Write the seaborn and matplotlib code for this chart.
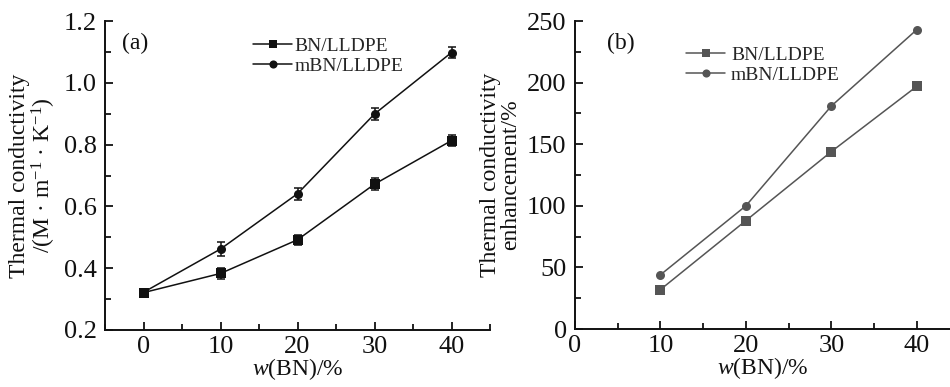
import numpy as np
import pandas as pd
import matplotlib
matplotlib.use("Agg")
import matplotlib.pyplot as plt
import seaborn as sns
from matplotlib.ticker import MultipleLocator

sns.set_theme(style="ticks")
plt.rcParams['font.family'] = ['Liberation Serif', 'DejaVu Serif']
plt.rcParams['mathtext.fontset'] = 'custom'
plt.rcParams['mathtext.rm'] = 'Liberation Serif'
plt.rcParams['mathtext.it'] = 'Liberation Serif:italic'

# Panel (a) data
w_a = [0, 10, 20, 30, 40]
bn_a = [0.321, 0.383, 0.492, 0.672, 0.813]
bn_a_err = [0.012, 0.018, 0.017, 0.020, 0.017]
mbn_a = [0.322, 0.462, 0.641, 0.899, 1.098]
mbn_a_err = [0.012, 0.024, 0.020, 0.021, 0.018]

# Panel (b) data
w_b = [10, 20, 30, 40]
bn_b = [32, 88, 144, 197]
mbn_b = [44, 100, 181, 243]

series = ["BN/LLDPE", "mBN/LLDPE"]

W, H = 950, 387
fig = plt.figure(figsize=(W / 100, H / 100), dpi=100)

def fr(x0, y0, x1, y1):
    return [x0 / W, 1 - y1 / H, (x1 - x0) / W, (y1 - y0) / H]

ax1 = fig.add_axes(fr(105, 21, 490, 330))
ax2 = fig.add_axes(fr(575, 21, 951, 329))

df_a = pd.DataFrame({
    "w": w_a * 2,
    "k": bn_a + mbn_a,
    "s": [series[0]] * len(w_a) + [series[1]] * len(w_a),
})
df_b = pd.DataFrame({
    "w": w_b * 2,
    "e": bn_b + mbn_b,
    "s": [series[0]] * len(w_b) + [series[1]] * len(w_b),
})

black = "#111111"
gray = "#555555"

sns.lineplot(data=df_a, x="w", y="k", hue="s", style="s",
             palette=[black, black], markers=["s", "o"], dashes=False,
             markersize=6.5, markeredgewidth=0, linewidth=1.1, ax=ax1)
ax1.errorbar(w_a, bn_a, yerr=bn_a_err, fmt="none", ecolor=black,
             elinewidth=1.1, capsize=3, capthick=1.1, zorder=5)
ax1.errorbar(w_a, mbn_a, yerr=mbn_a_err, fmt="none", ecolor=black,
             elinewidth=1.1, capsize=3, capthick=1.1, zorder=5)

sns.lineplot(data=df_b, x="w", y="e", hue="s", style="s",
             palette=[gray, gray], markers=["s", "o"], dashes=False,
             markersize=6.5, markeredgewidth=0, linewidth=1.1, ax=ax2)

ax1.set_xlim(-5, 45)
ax1.set_ylim(0.2, 1.2)
ax1.xaxis.set_minor_locator(MultipleLocator(5))
ax1.yaxis.set_minor_locator(MultipleLocator(0.1))
ax1.set_xticks([0, 10, 20, 30, 40])
ax1.set_xticklabels(["0", "10", "20", "30", "40"])
ax1.set_yticks([0.2, 0.4, 0.6, 0.8, 1.0, 1.2])
ax1.set_yticklabels(["0.2", "0.4", "0.6", "0.8", "1.0", "1.2"])

ax2.set_xlim(0, 44)
ax2.set_ylim(0, 250)
ax2.xaxis.set_minor_locator(MultipleLocator(5))
ax2.yaxis.set_minor_locator(MultipleLocator(25))
ax2.set_xticks([0, 10, 20, 30, 40])
ax2.set_yticks([0, 50, 100, 150, 200, 250])

for ax in (ax1, ax2):
    sns.despine(ax=ax)
    for sp in ("left", "bottom"):
        ax.spines[sp].set_linewidth(1.4)
        ax.spines[sp].set_color(black)
    ax.tick_params(which="major", direction="in", length=6, width=1.3,
                   labelsize=19, colors=black, pad=6)
    ax.tick_params(axis="x", which="major", pad=4)
    ax.tick_params(which="minor", direction="in", length=4, width=1.3,
                   colors=black)
    ax.set_xlabel(r"$\mathit{w}$(BN)/%", fontsize=17, color=black, labelpad=-1)
    ax.set_facecolor("none")

ax1.set_ylabel("Thermal conductivity\n/(M · m$^{-1}$ · K$^{-1}$)", fontsize=17,
               color=black, linespacing=1.0, labelpad=4)
ax2.set_ylabel("Thermal conductivity\nenhancement/%", fontsize=17,
               color=black, linespacing=1.0, labelpad=4)

ax1.text(0.045, 0.91, "(a)", transform=ax1.transAxes, fontsize=17, color=black)
ax2.text(0.085, 0.91, "(b)", transform=ax2.transAxes, fontsize=17, color=black)

leg1 = ax1.legend(title=None, loc="upper left", bbox_to_anchor=(0.36, 0.98),
                  frameon=False, fontsize=14, handlelength=2.0,
                  handletextpad=0.1, labelspacing=0.15, borderpad=0,
                  markerscale=0.9)
leg2 = ax2.legend(title=None, loc="upper left", bbox_to_anchor=(0.27, 0.95),
                  frameon=False, fontsize=14, handlelength=2.0,
                  handletextpad=0.3, labelspacing=0.15, borderpad=0,
                  markerscale=0.9)

fig.savefig("out.png", dpi=100)
